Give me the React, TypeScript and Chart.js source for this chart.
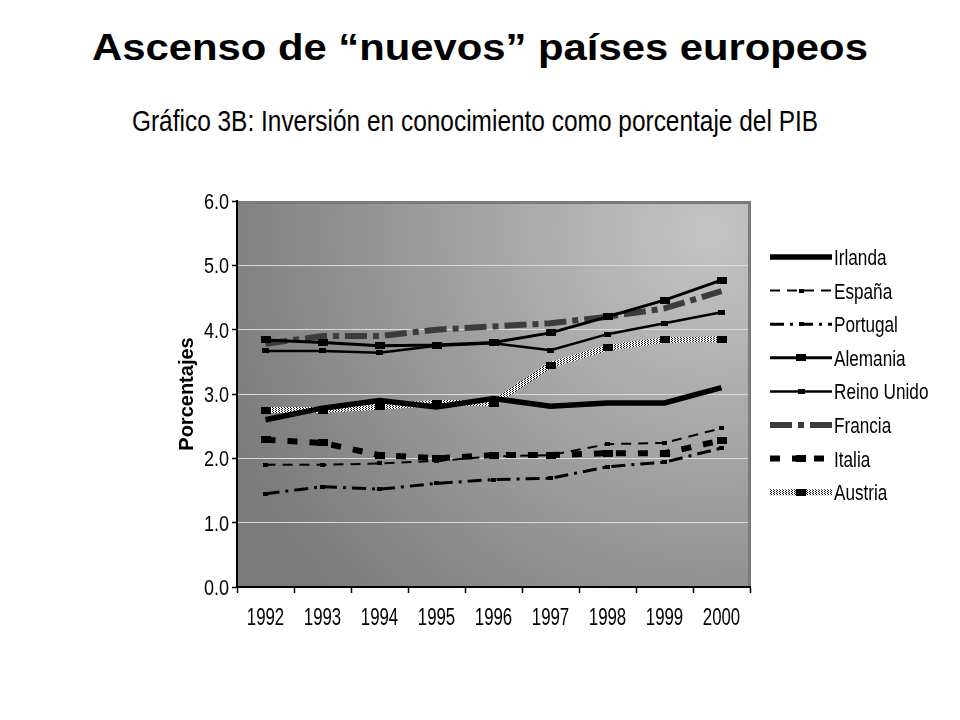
import React, { useEffect, useLayoutEffect, useRef, useState } from "react";
import { Chart, registerables } from "chart.js";

Chart.register(...registerables);

const FONT = '"Liberation Sans", Arial, Helvetica, sans-serif';

const years = ["1992", "1993", "1994", "1995", "1996", "1997", "1998", "1999", "2000"];
const seriesNames = ["Irlanda", "España", "Portugal", "Alemania", "Reino Unido", "Francia", "Italia", "Austria"];

const irlanda = [2.6, 2.78, 2.9, 2.8, 2.93, 2.81, 2.86, 2.86, 3.1];
const espana = [1.9, 1.9, 1.92, 1.96, 2.03, 2.05, 2.22, 2.24, 2.47];
const portugal = [1.45, 1.56, 1.52, 1.61, 1.67, 1.69, 1.87, 1.94, 2.16];
const alemania = [3.84, 3.8, 3.75, 3.76, 3.8, 3.95, 4.2, 4.46, 4.77];
const reinoUnido = [3.67, 3.67, 3.64, 3.75, 3.79, 3.68, 3.93, 4.1, 4.27];
const francia = [3.78, 3.9, 3.9, 4.0, 4.05, 4.1, 4.2, 4.33, 4.6];
const italia = [2.29, 2.24, 2.05, 2.0, 2.05, 2.05, 2.08, 2.08, 2.28];
const austria = [2.75, 2.75, 2.8, 2.86, 2.86, 3.45, 3.72, 3.84, 3.85];

const yMin = 0;
const yMax = 6;
const yStep = 1;

const titleText = "Ascenso de “nuevos” países europeos";
const subtitleText = "Gráfico 3B: Inversión en conocimiento como porcentaje del PIB";
const yTitle = "Porcentajes";

function makeRect(w: number, h: number, color: string) {
  const c = document.createElement("canvas");
  c.width = w;
  c.height = h;
  const x = c.getContext("2d")!;
  x.fillStyle = color;
  x.fillRect(0, 0, w, h);
  return c;
}

function makeStipple(ctx: CanvasRenderingContext2D) {
  const c = document.createElement("canvas");
  c.width = 3;
  c.height = 2;
  const x = c.getContext("2d")!;
  x.fillStyle = "#ffffff";
  x.fillRect(0, 0, 3, 2);
  x.fillStyle = "#111111";
  x.fillRect(0, 0, 1, 1);
  x.fillRect(2, 1, 1, 1);
  return ctx.createPattern(c, "repeat")!;
}

function drawCondensed(
  ctx: CanvasRenderingContext2D,
  text: string,
  x: number,
  y: number,
  size: number,
  sx: number,
  align: CanvasTextAlign,
  weight = "normal"
) {
  ctx.save();
  ctx.translate(x, y);
  ctx.scale(sx, 1);
  ctx.font = `${weight} ${size}px ${FONT}`;
  ctx.fillStyle = "#000";
  ctx.textAlign = align;
  ctx.textBaseline = "alphabetic";
  ctx.fillText(text, 0, 0);
  ctx.restore();
}

const bgPlugin = {
  id: "bgPlugin",
  beforeDraw(chart: any) {
    const { ctx, chartArea: a } = chart;
    const cx = a.right - 40;
    const cy = a.top + 30;
    const g = ctx.createRadialGradient(cx, cy, 0, cx, cy, 520);
    g.addColorStop(0, "#c4c4c4");
    g.addColorStop(1, "#7b7b7b");
    ctx.save();
    ctx.fillStyle = g;
    ctx.fillRect(a.left, a.top, a.right - a.left, a.bottom - a.top);
    ctx.restore();
  },
  beforeDatasetsDraw(chart: any) {
    const { ctx, chartArea: a } = chart;
    ctx.save();
    ctx.strokeStyle = "#7a7a7a";
    ctx.lineWidth = 3;
    ctx.beginPath();
    ctx.moveTo(a.left + 1, a.top + 1.5);
    ctx.lineTo(a.right + 1, a.top + 1.5);
    ctx.moveTo(a.right - 0.5, a.top);
    ctx.lineTo(a.right - 0.5, a.bottom - 1);
    ctx.stroke();
    ctx.restore();
  },
};

const tickLabelPlugin = {
  id: "tickLabels",
  afterDraw(chart: any) {
    const { ctx } = chart;
    const xs = chart.scales.x;
    const ys = chart.scales.y;
    ys.ticks.forEach((t: any) => {
      const py = ys.getPixelForValue(t.value);
      drawCondensed(ctx, Number(t.value).toFixed(1), 229, py + 8, 22, 0.82, "right");
    });
    xs.ticks.forEach((t: any, i: number) => {
      const px = xs.getPixelForTick(i);
      drawCondensed(ctx, String(chart.data.labels[i]), px, 625, 24, 0.7, "center");
    });
  },
};

const legendPlugin = {
  id: "customLegend",
  afterDraw(chart: any, _args: any, opts: any) {
    const { ctx } = chart;
    chart.data.datasets.forEach((ds: any, i: number) => {
      const y = opts.y0 + i * opts.dy;
      ctx.save();
      ctx.strokeStyle = ds.borderColor;
      ctx.lineWidth = ds.borderWidth;
      ctx.setLineDash(ds.borderDash || []);
      ctx.beginPath();
      ctx.moveTo(opts.x0, y);
      ctx.lineTo(opts.x1, y);
      ctx.stroke();
      ctx.restore();
      if (ds.pointStyle && ds.pointStyle instanceof HTMLCanvasElement) {
        const img = ds.pointStyle as HTMLCanvasElement;
        const mx = (opts.x0 + opts.x1) / 2;
        ctx.drawImage(img, Math.round(mx - img.width / 2), Math.round(y - img.height / 2));
      }
      drawCondensed(ctx, ds.label, opts.textX, y + 8, 22, 0.78, "left");
    });
  },
};

function FitText(props: { text: string; size: number; weight: string; target: number; centerX: number; top: number }) {
  const ref = useRef<HTMLSpanElement>(null);
  const [s, setS] = useState(1);
  useLayoutEffect(() => {
    if (ref.current) {
      const w = ref.current.offsetWidth;
      if (w > 0) setS(props.target / w);
    }
  }, []);
  return (
    <span
      ref={ref}
      style={{
        position: "absolute",
        left: props.centerX,
        top: props.top,
        fontFamily: FONT,
        fontSize: props.size,
        fontWeight: props.weight as any,
        lineHeight: `${props.size}px`,
        whiteSpace: "nowrap",
        color: "#000",
        transformOrigin: "center",
        transform: `translateX(-50%) scaleX(${s})`,
      }}
    >
      {props.text}
    </span>
  );
}

export default function App() {
  const canvasRef = useRef<HTMLCanvasElement>(null);

  useEffect(() => {
    const canvas = canvasRef.current!;
    const ctx = canvas.getContext("2d")!;
    const bigMark = makeRect(10, 7, "#000");
    const midMark = makeRect(7, 5, "#000");
    const smallMark = makeRect(5, 4, "#000");
    const stipple = makeStipple(ctx);

    const base = { fill: false, tension: 0, pointBorderWidth: 0, pointHoverRadius: 0 };
    const valuesList = [irlanda, espana, portugal, alemania, reinoUnido, francia, italia, austria];
    const styles: any[] = [
      { borderColor: "#000", borderWidth: 5.5, pointRadius: 0 },
      { borderColor: "#000", borderWidth: 2, borderDash: [10, 7], pointStyle: smallMark, pointRadius: 3 },
      { borderColor: "#000", borderWidth: 3, borderDash: [14, 6, 3, 6], pointStyle: smallMark, pointRadius: 3 },
      { borderColor: "#000", borderWidth: 3, pointStyle: bigMark, pointRadius: 5 },
      { borderColor: "#000", borderWidth: 2.5, pointStyle: midMark, pointRadius: 4 },
      { borderColor: "#3c3c3c", borderWidth: 6, borderDash: [22, 6, 6, 6], pointRadius: 0 },
      { borderColor: "#000", borderWidth: 6, borderDash: [10, 12], pointStyle: bigMark, pointRadius: 5 },
      { borderColor: stipple, borderWidth: 6, pointStyle: bigMark, pointRadius: 5 },
    ];
    const datasets = seriesNames.map((name, i) => ({
      ...base,
      label: name,
      data: valuesList[i],
      ...styles[i],
      pointBackgroundColor: "#000",
      pointBorderColor: "#000",
    }));

    const chart = new Chart(canvas, {
      type: "line",
      data: { labels: years, datasets },
      options: {
        responsive: false,
        animation: false,
        devicePixelRatio: 1,
        layout: { padding: { left: 175, top: 201, right: 210, bottom: 0 } },
        plugins: {
          legend: { display: false },
          tooltip: { enabled: false },
          customLegend: { x0: 770, x1: 832, textX: 834, y0: 257, dy: 33.6 },
        } as any,
        scales: {
          x: {
            type: "category",
            offset: true,
            grid: {
              offset: true,
              drawOnChartArea: false,
              color: "#000",
              tickColor: "#000",
              tickLength: 6,
              tickWidth: 1.5,
            },
            border: { color: "#000", width: 2 },
            ticks: { display: false, autoSkip: false, maxRotation: 0 },
            afterFit: (s: any) => {
              s.height = 133;
            },
          },
          y: {
            min: yMin,
            max: yMax,
            ticks: { stepSize: yStep, display: false },
            grid: {
              color: "#dadada",
              lineWidth: 1,
              tickColor: "#000",
              tickLength: 5,
              tickWidth: 1.5,
            },
            border: { color: "#000", width: 2 },
            title: {
              display: true,
              text: yTitle,
              color: "#000",
              font: { family: FONT, size: 20, weight: "bold" },
              padding: 0,
            },
            afterFit: (s: any) => {
              s.width = 62;
            },
          },
        },
      },
      plugins: [bgPlugin, tickLabelPlugin, legendPlugin],
    });
    return () => chart.destroy();
  }, []);

  return (
    <div style={{ position: "absolute", left: 0, top: 0, width: 960, height: 720, background: "#fff", overflow: "hidden" }}>
      <FitText text={titleText} size={37} weight="bold" target={776} centerX={480} top={29} />
      <FitText text={subtitleText} size={30} weight="normal" target={686} centerX={475} top={105.5} />
      <canvas ref={canvasRef} width={960} height={720} style={{ position: "absolute", left: 0, top: 0 }} />
    </div>
  );
}
